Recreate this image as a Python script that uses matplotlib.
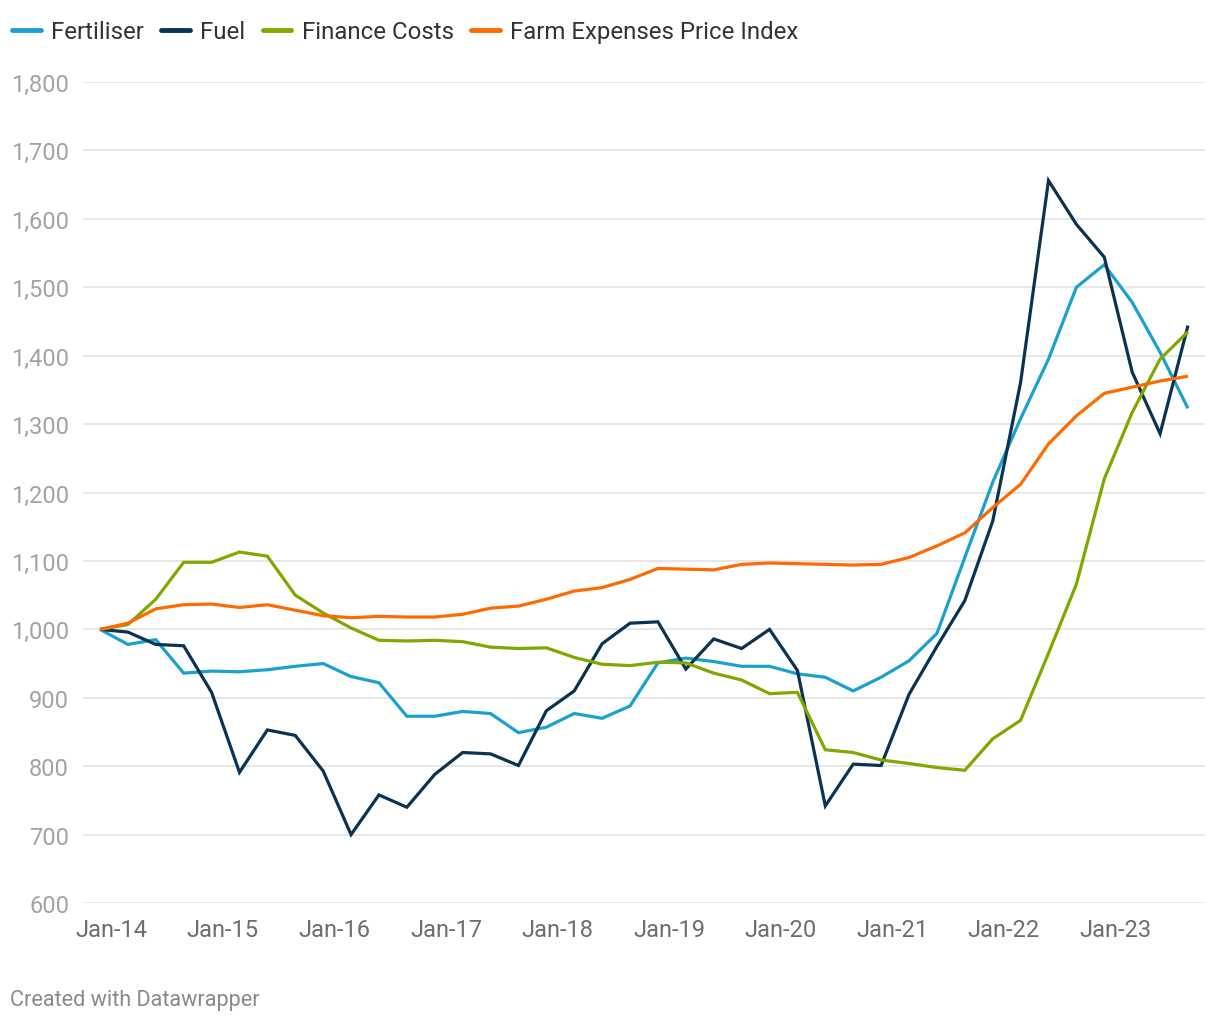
import numpy as np
import matplotlib
matplotlib.use("Agg")
import matplotlib.pyplot as plt
from matplotlib.ticker import FuncFormatter

plt.rcParams['font.family'] = ['Roboto', 'DejaVu Sans']

# quarterly index values, Jan-14 .. Oct-23
fertiliser = [1000, 978, 985, 936, 939, 938, 941, 946, 950, 931,
              922, 873, 873, 880, 877, 849, 857, 877, 870, 888,
              951, 958, 953, 946, 946, 935, 930, 910, 930, 954,
              994, 1105, 1215, 1308, 1395, 1500, 1533, 1478, 1405, 1323]
fuel = [1000, 996, 978, 976, 908, 791, 853, 845, 793, 700,
        758, 740, 788, 820, 818, 801, 881, 910, 979, 1009,
        1011, 942, 986, 972, 1000, 940, 742, 803, 801, 905,
        975, 1042, 1158, 1361, 1656, 1592, 1544, 1376, 1286, 1444]
finance = [1000, 1007, 1044, 1098, 1098, 1113, 1107, 1050, 1024, 1002,
           984, 983, 984, 982, 974, 972, 973, 959, 949, 947,
           952, 951, 936, 926, 906, 908, 824, 820, 809, 804,
           798, 794, 840, 867, 965, 1066, 1220, 1317, 1395, 1435]
farm_index = [1000, 1009, 1030, 1036, 1037, 1032, 1036, 1028, 1020, 1017,
              1019, 1018, 1018, 1022, 1031, 1034, 1044, 1056, 1061, 1073,
              1089, 1088, 1087, 1095, 1097, 1096, 1095, 1094, 1095, 1105,
              1122, 1141, 1178, 1212, 1271, 1312, 1345, 1354, 1363, 1370]

year_labels = ["Jan-14", "Jan-15", "Jan-16", "Jan-17", "Jan-18",
               "Jan-19", "Jan-20", "Jan-21", "Jan-22", "Jan-23"]
y_ticks = [600, 700, 800, 900, 1000, 1100, 1200, 1300, 1400, 1500, 1600, 1700, 1800]

series = [
    ("Fertiliser", fertiliser, "#1aa1cf"),
    ("Fuel", fuel, "#0a3351"),
    ("Finance Costs", finance, "#80a800"),
    ("Farm Expenses Price Index", farm_index, "#ff6a00"),
]

fig = plt.figure(figsize=(12.2, 10.2), dpi=100)
ax = fig.add_axes([0.068, 0.1137, 0.9197, 0.8049])

x = np.arange(len(fertiliser))
for name, vals, col in series:
    ax.plot(x, vals, color=col, lw=2.3, label=name, solid_joinstyle='miter',
            solid_capstyle='butt')

ax.set_xlim(-0.61, len(x) - 1 + 0.61)
ax.set_ylim(600, 1800)
ax.set_yticks(y_ticks)
ax.yaxis.set_major_formatter(FuncFormatter(lambda v, p: f"{int(v):,}"))
ax.set_xticks(np.arange(len(year_labels)) * 4 + 0.4)
ax.set_xticklabels(year_labels)

ax.grid(axis='y', color='#e3e3e3', lw=1.2)
ax.set_axisbelow(True)
for s in ax.spines.values():
    s.set_visible(False)
ax.tick_params(axis='y', length=0, pad=10, labelsize=17, labelcolor='#a3a3a3')
ax.tick_params(axis='x', length=0, pad=11, labelsize=17, labelcolor='#6e6e6e')

leg = ax.legend(loc='upper left', bbox_to_anchor=(0.010, 0.979), bbox_transform=fig.transFigure,
                ncol=4, frameon=False, fontsize=17.3, handlelength=1.2,
                handletextpad=0.42, columnspacing=0.72, borderaxespad=0, borderpad=0)
for t in leg.get_texts():
    t.set_color('#333333')
for h in leg.get_lines():
    h.set_linewidth(3.5)
    h.set_solid_capstyle('round')

fig.text(0.008, 0.014, "Created with Datawrapper", fontsize=15.6, color='#8a8a8a')

fig.savefig("out.png", dpi=100)
